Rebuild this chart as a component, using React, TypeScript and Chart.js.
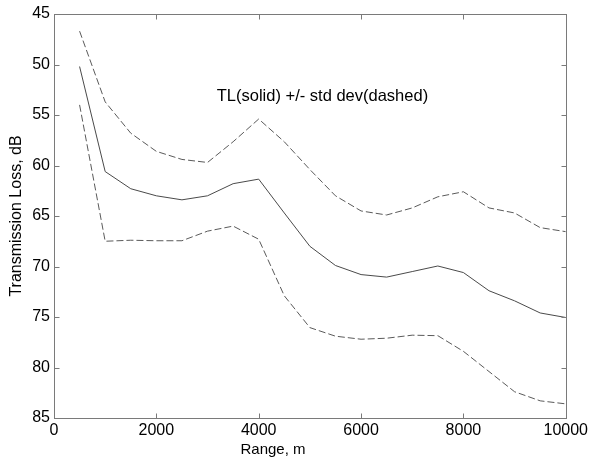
import React, { useEffect, useRef } from "react";
import { Chart, registerables } from "chart.js";

Chart.register(...registerables);

const ranges = [500, 1000, 1500, 2000, 2500, 3000, 3500, 4000, 4500, 5000, 5500, 6000, 6500, 7000, 7500, 8000, 8500, 9000, 9500, 10000];
const tlMean = [50.2, 60.6, 62.3, 63.0, 63.4, 63.0, 61.8, 61.35, 64.7, 68.0, 69.9, 70.8, 71.05, 70.5, 69.95, 70.6, 72.4, 73.4, 74.6, 75.05];
const tlUpper = [46.7, 53.7, 56.8, 58.6, 59.4, 59.7, 57.65, 55.4, 57.65, 60.4, 63.0, 64.5, 64.9, 64.2, 63.1, 62.6, 64.2, 64.7, 66.15, 66.55];
const tlLower = [54.0, 67.5, 67.4, 67.45, 67.45, 66.5, 66.0, 67.3, 72.9, 76.05, 76.9, 77.2, 77.1, 76.8, 76.85, 78.4, 80.4, 82.4, 83.3, 83.6];
const xTicks = [0, 2000, 4000, 6000, 8000, 10000];
const yTicks = [45, 50, 55, 60, 65, 70, 75, 80, 85];
const annotationText = "TL(solid) +/- std dev(dashed)";
const annotationAt = { x: 3180, y: 53.2 };
const xTitleText = "Range, m";
const xTitleAt = 4280;

const FONT = "'Liberation Sans', Arial, Helvetica, sans-serif";

export default function App() {
  const ref = useRef<HTMLCanvasElement>(null);

  useEffect(() => {
    if (!ref.current) return;
    const toPts = (ys: number[]) => ranges.map((x, i) => ({ x, y: ys[i] }));

    const frame = {
      id: "matlabFrame",
      afterDraw(chart: any) {
        const { ctx, chartArea: a, scales } = chart;
        const xs = scales.x;
        const ys = scales.y;
        const L = Math.round(a.left) + 0.5;
        const R = Math.round(a.right) + 0.5;
        const T = Math.round(a.top) + 0.5;
        const B = Math.round(a.bottom) + 0.5;
        ctx.save();
        ctx.strokeStyle = "#7a7a7a";
        ctx.lineWidth = 1;
        ctx.strokeRect(L, T, R - L, B - T);
        const tl = 5;
        ctx.beginPath();
        xTicks.forEach((v) => {
          const px = Math.round(xs.getPixelForValue(v)) + 0.5;
          ctx.moveTo(px, B);
          ctx.lineTo(px, B - tl);
          ctx.moveTo(px, T);
          ctx.lineTo(px, T + tl);
        });
        yTicks.forEach((v) => {
          const py = Math.round(ys.getPixelForValue(v)) + 0.5;
          ctx.moveTo(L, py);
          ctx.lineTo(L + tl, py);
          ctx.moveTo(R, py);
          ctx.lineTo(R - tl, py);
        });
        ctx.stroke();
        ctx.fillStyle = "#000";
        ctx.font = `16.5px ${FONT}`;
        ctx.textAlign = "left";
        ctx.textBaseline = "middle";
        ctx.fillText(annotationText, xs.getPixelForValue(annotationAt.x), ys.getPixelForValue(annotationAt.y));
        ctx.font = `15px ${FONT}`;
        ctx.textAlign = "center";
        ctx.textBaseline = "alphabetic";
        ctx.fillText(xTitleText, xs.getPixelForValue(xTitleAt), xs.bottom - 7.5);
        ctx.restore();
      },
    };

    const chart = new Chart(ref.current, {
      type: "line",
      data: {
        datasets: [
          {
            label: "TL",
            data: toPts(tlMean),
            borderColor: "#4a4a4a",
            borderWidth: 1,
            pointRadius: 0,
            tension: 0,
            fill: false,
          },
          {
            label: "TL + std",
            data: toPts(tlUpper),
            borderColor: "#5a5a5a",
            borderWidth: 1,
            borderDash: [7, 3],
            pointRadius: 0,
            tension: 0,
            fill: false,
          },
          {
            label: "TL - std",
            data: toPts(tlLower),
            borderColor: "#5a5a5a",
            borderWidth: 1,
            borderDash: [7, 3],
            pointRadius: 0,
            tension: 0,
            fill: false,
          },
        ],
      },
      options: {
        responsive: false,
        animation: false,
        layout: { padding: { left: 0, top: 14, right: 22, bottom: 0 } },
        plugins: { legend: { display: false }, tooltip: { enabled: false } },
        scales: {
          x: {
            type: "linear",
            min: 0,
            max: 10000,
            afterBuildTicks: (s: any) => {
              s.ticks = xTicks.map((v) => ({ value: v }));
            },
            ticks: {
              color: "#000",
              font: { family: FONT, size: 16 },
              padding: 3,
              maxRotation: 0,
              autoSkip: false,
              callback: (v: any) => String(v),
            },
            grid: { display: false, drawTicks: false },
            border: { display: false },
            title: { display: false },
            afterFit: (s: any) => {
              s.height = 43;
            },
          },
          y: {
            type: "linear",
            reverse: true,
            min: 45,
            max: 85,
            afterBuildTicks: (s: any) => {
              s.ticks = yTicks.map((v) => ({ value: v }));
            },
            ticks: {
              color: "#000",
              font: { family: FONT, size: 16 },
              padding: 4,
              autoSkip: false,
              callback: (v: any) => String(v),
            },
            grid: { display: false, drawTicks: false },
            border: { display: false },
            title: {
              display: true,
              text: "Transmission Loss, dB",
              color: "#000",
              font: { family: FONT, size: 16, lineHeight: 1.2 },
              padding: { top: 7, bottom: 0 },
            },
            afterFit: (s: any) => {
              s.width = 54;
            },
          },
        },
      },
      plugins: [frame],
    });
    return () => chart.destroy();
  }, []);

  return (
    <div style={{ position: "fixed", left: 0, top: 0, width: 591, height: 461, background: "#fff" }}>
      <canvas ref={ref} width={591} height={461} style={{ width: 591, height: 461, display: "block" }} />
    </div>
  );
}
